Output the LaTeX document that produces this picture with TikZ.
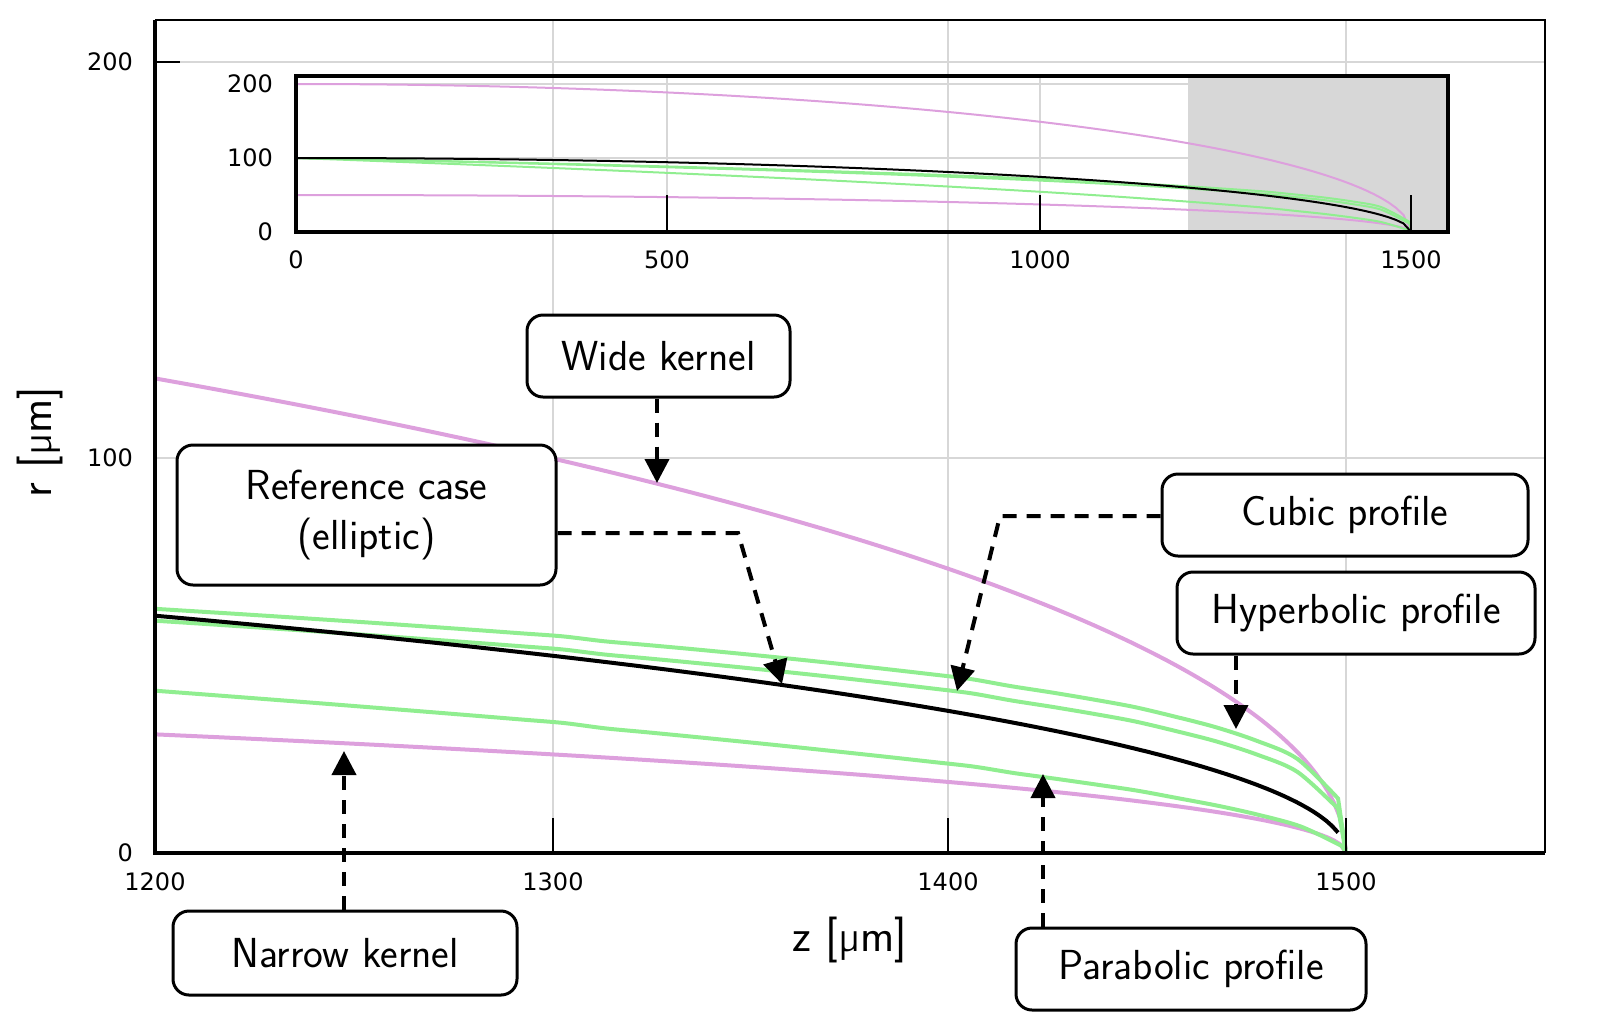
\documentclass[tikz,border=0pt]{standalone}
\usepackage{fontspec}
\newfontfamily\tickfont{DejaVu Sans}
\usetikzlibrary{arrows.meta}
\definecolor{pk}{RGB}{221,160,221}
\definecolor{gr}{RGB}{144,238,144}
\definecolor{gd}{RGB}{215,215,215}
\begin{document}
\begin{tikzpicture}[x=0.5pt,y=-0.5pt,font=\sffamily,
  box/.style={draw,line width=1.5pt,rounded corners=8pt,fill=white,font=\sffamily\fontsize{21}{25}\selectfont,align=center,inner sep=0pt},
  arr/.style={line width=2pt,dash pattern=on 7pt off 5pt,-{Triangle[length=12pt,width=12pt]}},
  tl/.style={font=\tickfont\fontsize{12}{14}\selectfont},
  grid/.style={gd,line width=0.8pt}]
\useasboundingbox (0,0) rectangle (1600,1034);
% main grid
\foreach \x in {553,948,1346} \draw[grid] (\x,20) -- (\x,853);
\foreach \y in {62,458} \draw[grid] (155,\y) -- (1545,\y);
% main curves
\begin{scope}
\clip (155,20) rectangle (1545,853);
\draw[pk,line width=2pt] plot[domain=1200:1500,samples=200] ({155+(\x-1200)*3.97},{853-200*3.955*sqrt(max(0,(1-\x/1500)*(1+\x/1500)))});
\draw[pk,line width=2pt] plot[domain=1200:1500,samples=200] ({155+(\x-1200)*3.97},{853-50*3.955*sqrt(max(0,(1-\x/1500)*(1+\x/1500)))});
\draw[gr,line width=2pt] plot[smooth,domain=1200:1498,samples=30] ({155+(\x-1200)*3.97},{853-100*3.955*(1-\x/1500)^0.3}) -- (1346,853);
\draw[gr,line width=2pt] plot[smooth,domain=1200:1498,samples=30] ({155+(\x-1200)*3.97},{853-100*3.955*(1-\x/1500)^0.331}) -- (1346,853);
\draw[gr,line width=2pt] plot[smooth,domain=1200:1499,samples=30] ({155+(\x-1200)*3.97},{853-100*3.955*(1-\x/1500)^0.554}) -- (1346,853);
\draw[black,line width=2pt] plot[domain=1200:1498,samples=200] ({155+(\x-1200)*3.97},{853-100*3.955*sqrt(max(0,(1-\x/1500)*(1+\x/1500)))});
\end{scope}
% main ticks & frame
\foreach \x in {553,948,1346} \draw[line width=1pt] (\x,853) -- (\x,818);
\draw[line width=1pt] (155,62) -- (180,62);
\draw[line width=1pt] (155,20) -- (1545,20) -- (1545,853);
\draw[line width=2pt] (155,20) -- (155,853) -- (1545,853);
\foreach \x/\t in {155/1200,553/1300,948/1400,1346/1500} \node[tl] (mx\t) at (\x,882) {\t};
\node[tl,anchor=east] (my0) at (140,853) {0};
\node[tl,anchor=east] (my100) at (140,458) {100};
\node[tl,anchor=east] (my200) at (140,62) {200};
\node[font=\sffamily\fontsize{23}{27}\selectfont] (zl) at (850,940) {z [µm]};
\node[font=\sffamily\fontsize{23}{27}\selectfont,rotate=90] (rl) at (40,442) {r [µm]};
% inset
\fill[gd] (1188,76) rectangle (1448,232);
\foreach \x in {667,1040,1411} \draw[grid] (\x,76) -- (\x,232);
\foreach \y in {84,158} \draw[grid] (296,\y) -- (1448,\y);
\begin{scope}
\clip (296,76) rectangle (1448,232);
\draw[pk,line width=1pt] plot[domain=0:1500,samples=150] ({296+\x*0.7433},{232-200*0.74*sqrt(max(0,(1-\x/1500)*(1+\x/1500)))});
\draw[pk,line width=1pt] plot[domain=0:1500,samples=150] ({296+\x*0.7433},{232-50*0.74*sqrt(max(0,(1-\x/1500)*(1+\x/1500)))});
\draw[gr,line width=1pt] plot[smooth,domain=0:1498,samples=40] ({296+\x*0.7433},{232-100*0.74*(1-\x/1500)^0.3}) -- (1411,232);
\draw[gr,line width=1pt] plot[smooth,domain=0:1498,samples=40] ({296+\x*0.7433},{232-100*0.74*(1-\x/1500)^0.331}) -- (1411,232);
\draw[gr,line width=1pt] plot[smooth,domain=0:1499,samples=40] ({296+\x*0.7433},{232-100*0.74*(1-\x/1500)^0.554}) -- (1411,232);
\draw[black,line width=1pt] plot[domain=0:1500,samples=150] ({296+\x*0.7433},{232-100*0.74*sqrt(max(0,(1-\x/1500)*(1+\x/1500)))});
\end{scope}
\foreach \x in {667,1040,1411} \draw[line width=0.8pt] (\x,232) -- (\x,195);
\draw[line width=1.6pt] (296,76) rectangle (1448,232);
\foreach \x/\t in {296/0,667/500,1040/1000,1411/1500} \node[tl] (ix\t) at (\x,260) {\t};
\node[tl,anchor=east] (iy0) at (280,232) {0};
\node[tl,anchor=east] (iy100) at (280,158) {100};
\node[tl,anchor=east] (iy200) at (280,84) {200};
% callouts
\node[box,minimum width=131.5pt,minimum height=41pt] (wide) at (658.5,356) {Wide kernel};
\node[box,minimum width=189.5pt,minimum height=70pt] (ref) at (366.5,515) {Reference case\\(elliptic)};
\node[box,minimum width=183pt,minimum height=41pt] (cub) at (1345,515) {Cubic profile};
\node[box,minimum width=179pt,minimum height=41pt] (hyp) at (1356,613) {Hyperbolic profile};
\node[box,minimum width=172pt,minimum height=42pt] (nar) at (345,953) {Narrow kernel};
\node[box,minimum width=175pt,minimum height=41pt] (par) at (1191,969) {Parabolic profile};
\coordinate (wt) at (657,483);
\coordinate (rc) at (738,533);
\coordinate (rt) at (782,684);
\coordinate (cc) at (1000,516);
\coordinate (ct) at (957,691);
\coordinate (ht) at (1236,729);
\coordinate (nt) at (344,751);
\coordinate (pt) at (1043,774);
\draw[arr] (wide.south -| wt) -- (wt);
\draw[arr] (ref.east |- rc) -- (rc) -- (rt);
\draw[arr] (cub.west |- cc) -- (cc) -- (ct);
\draw[arr] (hyp.south -| ht) -- (ht);
\draw[arr] (nar.north -| nt) -- (nt);
\draw[arr] (par.north -| pt) -- (pt);
\end{tikzpicture}
\end{document}
